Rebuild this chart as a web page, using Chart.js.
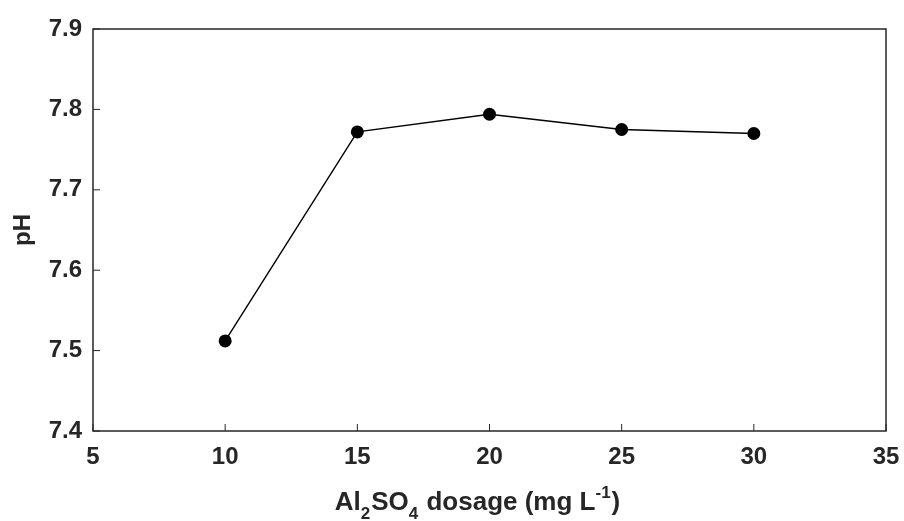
<!DOCTYPE html>
<html><head><meta charset="utf-8">
<script src="https://cdn.jsdelivr.net/npm/chart.js@4"></script>
<style>html,body{margin:0;padding:0;background:#fff}#wrap{width:904px;height:521px}</style>
</head><body><div id="wrap"><canvas id="c" width="904" height="521"></canvas></div>
<script>
const dosage = [10, 15, 20, 25, 30];
const pH = [7.512, 7.772, 7.794, 7.775, 7.770];
const xTicks = [5, 10, 15, 20, 25, 30, 35];
const yTicks = [7.4, 7.5, 7.6, 7.7, 7.8, 7.9];
// x title parts: [text, kind] kind: n=normal, b=subscript, p=superscript
const xTitleParts = [['Al', 'n'], ['2', 'b'], ['SO', 'n'], ['4', 'b'], [' dosage (mg L', 'n'], ['-1', 'p'], [')', 'n']];
const yTitle = 'pH';

const textColor = '#262626';
const family = '"Liberation Sans", Arial, sans-serif';
const font = {family, size: 24, weight: 'bold'};

const boxPlugin = {
  id: 'box',
  afterDraw(chart) {
    const {ctx, chartArea: a, scales} = chart;
    ctx.save();
    ctx.strokeStyle = '#262626';
    ctx.lineWidth = 1.5;
    ctx.strokeRect(a.left, a.top, a.right - a.left, a.bottom - a.top);
    ctx.lineWidth = 1;
    ctx.beginPath();
    scales.x.ticks.forEach(t => {
      const px = scales.x.getPixelForValue(t.value);
      ctx.moveTo(px, a.bottom); ctx.lineTo(px, a.bottom - 7);
    });
    scales.y.ticks.forEach(t => {
      const py = scales.y.getPixelForValue(t.value);
      ctx.moveTo(a.left, py); ctx.lineTo(a.left + 7, py);
    });
    ctx.stroke();

    // x-axis title with sub/superscripts
    const big = 'bold 26px ' + family, small = 'bold 17px ' + family;
    let w = 0;
    xTitleParts.forEach(([t, k]) => { ctx.font = k === 'n' ? big : small; w += ctx.measureText(t).width; });
    let x = 476 - w / 2;
    const base = 510;
    ctx.fillStyle = textColor;
    ctx.textBaseline = 'alphabetic';
    ctx.textAlign = 'left';
    xTitleParts.forEach(([t, k]) => {
      ctx.font = k === 'n' ? big : small;
      const y = k === 'b' ? base + 9 : (k === 'p' ? base - 12 : base);
      ctx.fillText(t, x, y);
      x += ctx.measureText(t).width + (k === 'n' ? 0 : 1);
    });
    ctx.restore();
  }
};

new Chart(document.getElementById('c'), {
  type: 'line',
  data: {
    datasets: [{
      data: dosage.map((d, i) => ({x: d, y: pH[i]})),
      borderColor: '#000',
      backgroundColor: '#000',
      borderWidth: 1.4,
      pointRadius: 6.5,
      pointBackgroundColor: '#000',
      pointBorderWidth: 0,
      tension: 0
    }]
  },
  options: {
    responsive: false,
    animation: false,
    layout: {padding: {left: 0, right: 18, top: 29, bottom: 0}},
    plugins: {legend: {display: false}, tooltip: {enabled: false}},
    scales: {
      x: {
        type: 'linear', min: 5, max: 35,
        afterBuildTicks(s) { s.ticks = xTicks.map(v => ({value: v})); },
        ticks: {color: textColor, font, padding: 12, maxRotation: 0, callback: v => String(v)},
        grid: {display: false, drawTicks: false},
        border: {display: false},
        title: {display: false},
        afterFit(s) { s.height = 521 - 431; s.paddingRight = 0; s.paddingLeft = 0; }
      },
      y: {
        type: 'linear', min: 7.4, max: 7.9,
        afterBuildTicks(s) { s.ticks = yTicks.map(v => ({value: v})); },
        ticks: {color: textColor, font, padding: 11, callback: v => v.toFixed(1)},
        grid: {display: false, drawTicks: false},
        border: {display: false},
        title: {display: true, text: yTitle, color: textColor, font, padding: {top: 9, bottom: 0}},
        afterFit(s) { s.width = 93; s.paddingTop = 0; s.paddingBottom = 0; }
      }
    }
  },
  plugins: [boxPlugin]
});
</script></body></html>
